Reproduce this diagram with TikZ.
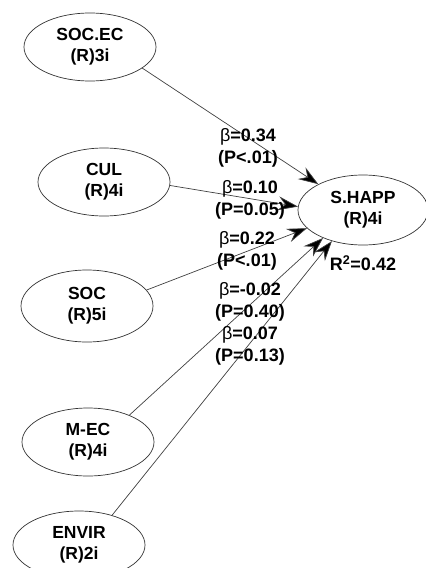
\documentclass[tikz,border=0pt]{standalone}
\usepackage{fontspec}
\setmainfont{Liberation Sans}
\usetikzlibrary{shapes.geometric,arrows.meta}
\begin{document}
\begin{tikzpicture}[x=1pt,y=-1pt,
  lat/.style={ellipse,draw=black!80,line width=0.7pt,fill=white,inner sep=0pt,
    minimum width=132pt,minimum height=68pt,align=center,
    font=\fontsize{17.5}{21}\selectfont\bfseries},
  lbl/.style={align=center,inner sep=0pt,font=\fontsize{18}{22}\selectfont\bfseries},
  path/.style={draw=black!75,line width=0.7pt,
    -{Stealth[length=20pt,width=14pt,inset=7pt,fill=black]}}]
\useasboundingbox (0,0) rectangle (426,568);
\node[lat] (socec) at (90,47) {SOC.EC\\(R)3i};
\node[lat] (cul) at (104,182) {CUL\\(R)4i};
\node[lat,minimum height=72pt] (soc) at (87,306) {SOC\\(R)5i};
\node[lat] (mec) at (88,442) {M-EC\\(R)4i};
\node[lat] (envir) at (79,545) {ENVIR\\(R)2i};
\node[lat,minimum width=130pt,minimum height=70pt] (shapp) at (363,210) {S.HAPP\\(R)4i};
\draw[path] (socec.-22) -- (shapp.150);
\draw[path] (cul.-3) -- (shapp.177);
\draw[path] (soc.15) -- (shapp.198);
\draw[path] (mec.33) -- (shapp.215);
\draw[path] (envir.42) -- (shapp.225);
\node[lbl] (l1) at (248,148) {{\mdseries β}=0.34\\(P<.01)};
\node[lbl] (l2) at (250,200) {{\mdseries β}=0.10\\(P=0.05)};
\node[lbl] (l3) at (247,251) {{\mdseries β}=0.22\\(P<.01)};
\node[lbl] (l4) at (250,302) {{\mdseries β}=-0.02\\(P=0.40)};
\node[lbl] (l5) at (250,346) {{\mdseries β}=0.07\\(P=0.13)};
\node[lbl] (r2) at (363,263) {R\textsuperscript{2}=0.42};
\end{tikzpicture}
\end{document}
